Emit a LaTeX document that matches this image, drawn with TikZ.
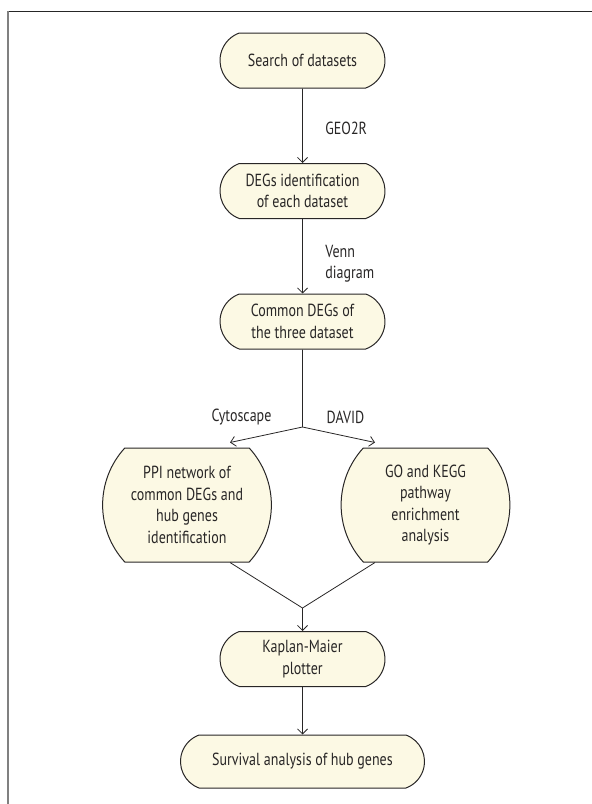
\documentclass[tikz,border=0pt]{standalone}
\usepackage{fontspec}
\setmainfont{PT Sans}[FakeStretch=0.8]
\usepackage{tikz}
\usetikzlibrary{arrows.meta}
\usetikzlibrary{shapes.misc}
\definecolor{boxfill}{RGB}{252,249,228}
\definecolor{inkgray}{RGB}{40,38,38}
\tikzset{basic/.style={draw=inkgray,fill=boxfill,line width=1pt,text=inkgray,
                       align=center,rounded rectangle,inner sep=2pt}}
\tikzset{stadium/.style={basic,rounded rectangle arc length=140,
                         minimum width=169pt,minimum height=55pt}}
\tikzset{tallbox/.style={basic,rounded rectangle arc length=85,
                         minimum width=169pt,minimum height=114pt}}
\def\axis{302.5}

\begin{document}
\begin{tikzpicture}[x=1pt,y=-1pt,->,>={Straight Barb[length=5pt,width=10pt]},
                    draw=inkgray,line width=0.8pt,
                    font=\fontsize{17.5}{21.5}\selectfont]
    \tikzstyle{annot} = [text=inkgray,inner sep=0pt]
    \useasboundingbox (0,0) rectangle (592,804);

    % Frame lines at the top and on the left
    \draw[-,black!85,line width=1pt] (7,11) -- (592,11);
    \draw[-,gray,line width=2pt] (7.5,11) -- (7.5,804);

    % Draw the main column of steps
    \foreach \name / \y / \txt in {search/60.5/{Search of datasets},
                                   degs/191/{DEGs identification\\of each dataset},
                                   common/321.5/{Common DEGs of\\the three dataset},
                                   kaplan/659/{Kaplan-Maier\\plotter}}
        \node[stadium] (\name) at (\axis,\y) {\txt};
    \node[stadium,minimum width=248pt,minimum height=53pt] (survival)
        at (\axis,761.5) {Survival analysis of hub genes};

    % Draw the two parallel analyses
    \node[tallbox] (ppi) at (187,505)
        {PPI network of\\common DEGs and\\hub genes\\identification};
    \node[tallbox] (go) at (425.5,505)
        {GO and KEGG\\pathway\\enrichment\\analysis};

    % Branching and joining points
    \coordinate (split) at (\axis,427);
    \coordinate (merge) at (\axis,608);

    % Connect the steps of the main column
    \foreach \source / \dest in {search/degs,degs/common,kaplan/survival}
        \path (\source) edge (\dest);

    % Split into the two analyses
    \draw[-] (common) -- (split);
    \draw (split) -- ([shift={(43,-5)}]ppi.north);
    \draw (split) -- ([shift={(-50.5,-5)}]go.north);

    % Join the two analyses again
    \draw[-] ([xshift=43pt]ppi.south) -- (merge);
    \draw[-] ([xshift=-50.5pt]go.south) -- (merge);
    \draw (merge) -- (kaplan);

    % Tool labels
    \node[annot,anchor=west] (geo) at (325,128) {GEO2R};
    \node[annot,anchor=west,align=left] (venn) at (325,263.5) {Venn\\diagram};
    \node[annot] (cyto) at (241.5,417) {Cytoscape};
    \node[annot] (david) at (345.5,417) {DAVID};
\end{tikzpicture}
\end{document}
